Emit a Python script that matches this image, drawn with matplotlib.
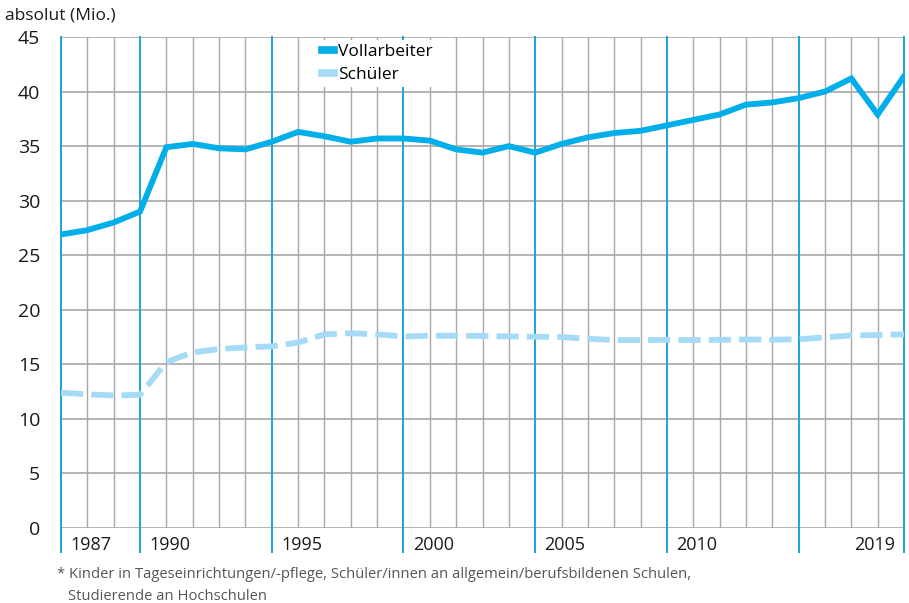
import matplotlib.pyplot as plt
from matplotlib.lines import Line2D

# Daten
jahre = list(range(1987, 2020))
vollarbeiter = [26.9, 27.3, 28.0, 29.0, 34.9, 35.2, 34.8, 34.7, 35.4, 36.3,
                35.9, 35.4, 35.7, 35.7, 35.5, 34.7, 34.4, 35.0, 34.4, 35.2,
                35.8, 36.2, 36.4, 36.9, 37.4, 37.9, 38.8, 39.0, 39.4, 40.0,
                41.2, 37.9, 41.4]
schueler = [12.4, 12.25, 12.15, 12.2, 15.2, 16.1, 16.4, 16.55, 16.65, 17.0,
            17.75, 17.85, 17.75, 17.55, 17.62, 17.62, 17.6, 17.56, 17.53, 17.5,
            17.35, 17.22, 17.22, 17.25, 17.22, 17.25, 17.28, 17.25, 17.3, 17.47,
            17.65, 17.68, 17.75]
label_jahre = [1987, 1990, 1995, 2000, 2005, 2010, 2015, 2019]
beschriftung = ["1987", "1990", "1995", "2000", "2005", "2010", "", "2019"]

blau = "#00aee9"
hellblau = "#a6dbf7"
linienblau = "#1ea3d9"
grau = "#a8a8a8"

plt.rcParams['font.family'] = ['Open Sans', 'DejaVu Sans']

fig = plt.figure(figsize=(9.09, 6.03), dpi=100)
ax = fig.add_axes([61 / 909, 75 / 603, 843 / 909, 491 / 603])

# Gitter
for j in jahre:
    if j in label_jahre:
        ax.axvline(j, color=linienblau, lw=1.4, zorder=1, clip_on=False,
                   ymin=-24 / 491, ymax=1)
    else:
        ax.axvline(j, color=grau, lw=1.0, zorder=1)
for y in range(0, 50, 5):
    ax.axhline(y, color=grau, lw=1.2, zorder=0.5)

ax.plot(jahre, vollarbeiter, color=blau, lw=4.2, solid_joinstyle='miter',
        zorder=3, label="Vollarbeiter")
ax.plot(jahre, schueler, color=hellblau, lw=4.2, dashes=(3.8, 1.4),
        zorder=3, label="Schüler")

ax.set_xlim(1987, 2019)
ax.set_ylim(0, 45)
ax.set_yticks(range(0, 50, 5))
ax.set_xticks([])
ax.tick_params(axis='y', length=0, pad=15, labelsize=14, labelcolor="#1a1a1a")
for s in ax.spines.values():
    s.set_visible(False)

# Jahresbeschriftungen
for j, t in zip(label_jahre, beschriftung):
    if j == 2019:
        ax.text(j - 0.35, -1.6, t, ha='right', va='center', fontsize=13,
                color="#1a1a1a")
    else:
        ax.text(j + 0.35, -1.6, t, ha='left', va='center', fontsize=13,
                color="#1a1a1a")

fig.text(5 / 909, 1 - 15 / 603, "absolut (Mio.)", fontsize=12.5,
         color="#1a1a1a", va='center', ha='left')

handles = [Line2D([], [], color=blau, lw=5.5),
           Line2D([], [], color=hellblau, lw=5.5)]
leg = ax.legend(handles, ["Vollarbeiter", "Schüler"],
                loc='upper left', bbox_to_anchor=(318 / 909, 1 - 40 / 603),
                bbox_transform=fig.transFigure, frameon=True, fancybox=False,
                handlelength=0.65, handletextpad=0.25, borderpad=0.25,
                labelspacing=0.35, fontsize=12.5, borderaxespad=0)
leg.get_frame().set_facecolor('white')
leg.get_frame().set_edgecolor('none')
leg.get_frame().set_alpha(1)
leg.set_zorder(5)

fig.text(57 / 909, 1 - 575 / 603,
         "* Kinder in Tageseinrichtungen/-pflege, Schüler/innen an allgemein/berufsbildenen Schulen,",
         fontsize=10.6, color="#555555", va='center', ha='left')
fig.text(68 / 909, 1 - 596 / 603, "Studierende an Hochschulen",
         fontsize=10.6, color="#555555", va='center', ha='left')

fig.savefig("out.png", dpi=100)
